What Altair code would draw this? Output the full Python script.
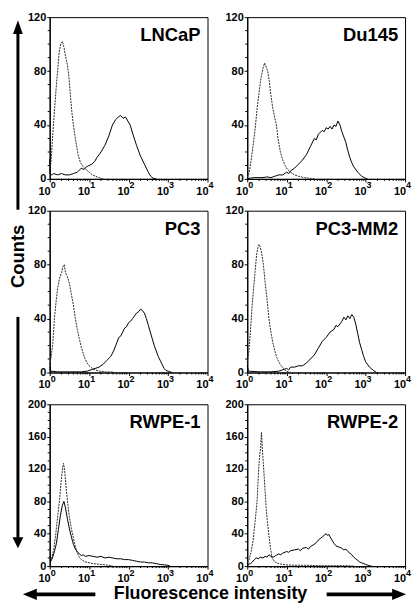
import altair as alt
import pandas as pd

FONT = "Liberation Sans"

PANELS = ["LNCaP", "Du145", "PC3", "PC3-MM2", "RWPE-1", "RWPE-2"]
Y_MAX = [120, 120, 120, 120, 200, 200]
Y_TICKS = [[0, 40, 80, 120]] * 4 + [[0, 40, 80, 120, 160, 200]] * 2
DECADES = [1, 10, 100, 1000, 10000]
EXPONENTS = ["0", "1", "2", "3", "4"]
MINOR_X = [2, 3, 4, 5, 6, 7, 8, 9, 20, 30, 40, 50, 60, 70, 80, 90,
           200, 300, 400, 500, 600, 700, 800, 900,
           2000, 3000, 4000, 5000, 6000, 7000, 8000, 9000]
Y_LABEL = "Counts"
X_LABEL = "Fluorescence intensity"

# log10(fluorescence intensity) and counts
LNCAP_DASH_LOG = [0.00, 0.04, 0.08, 0.12, 0.16, 0.20, 0.24, 0.28, 0.32, 0.36, 0.40, 0.44, 0.48, 0.52, 0.56, 0.60, 0.66, 0.72, 0.78, 0.85, 0.92, 1.00, 1.08, 1.16, 1.25, 1.35]
LNCAP_DASH_CNT = [4, 15, 34, 50, 66, 80, 94, 100, 102, 98, 91, 86, 78, 64, 50, 40, 28, 18, 12, 9, 7, 5, 3, 2, 1, 0]
LNCAP_SOLID_LOG = [0.00, 0.01, 0.05, 0.10, 0.20, 0.30, 0.40, 0.50, 0.60, 0.70, 0.80, 0.87, 0.93, 1.00, 1.07, 1.14, 1.20, 1.30, 1.40, 1.50, 1.59, 1.67, 1.74, 1.80, 1.86, 1.92, 1.98, 2.04, 2.10, 2.20, 2.30, 2.40, 2.50, 2.56, 2.62, 2.70]
LNCAP_SOLID_CNT = [15, 4, 3, 4, 3, 4, 3, 3, 4, 5, 8, 7, 9, 10, 11, 13, 16, 20, 25, 32, 40, 44, 46, 47, 45, 46, 43, 40, 34, 25, 17, 11, 5, 2, 0.5, 0]

DU145_DASH_LOG = [0.00, 0.05, 0.10, 0.15, 0.20, 0.25, 0.30, 0.35, 0.40, 0.44, 0.48, 0.52, 0.56, 0.60, 0.65, 0.70, 0.74, 0.78, 0.84, 0.90, 0.96, 1.02, 1.10, 1.20, 1.30, 1.45, 1.60, 1.70]
DU145_DASH_CNT = [1, 5, 14, 25, 37, 52, 64, 75, 82, 86, 83, 80, 72, 62, 52, 45, 40, 30, 20, 14, 10, 7, 5, 3, 2, 1, 0.5, 0]
DU145_SOLID_LOG = [0.00, 0.05, 0.20, 0.40, 0.50, 0.60, 0.70, 0.80, 0.90, 1.00, 1.05, 1.10, 1.20, 1.30, 1.40, 1.50, 1.60, 1.70, 1.75, 1.80, 1.90, 1.95, 2.00, 2.05, 2.10, 2.15, 2.20, 2.25, 2.30, 2.35, 2.40, 2.45, 2.50, 2.55, 2.60, 2.65, 2.70, 2.80, 2.90, 3.00, 3.05]
DU145_SOLID_CNT = [0, 0.5, 1, 1, 1.5, 1, 2, 3, 3, 5, 4, 6, 8, 11, 14, 18, 24, 30, 29, 33, 36, 35, 38, 37, 39, 37, 40, 39, 43, 40, 35, 31, 27, 21, 16, 12, 9, 5, 2, 0.5, 0]

PC3_DASH_LOG = [0.00, 0.04, 0.08, 0.12, 0.16, 0.20, 0.25, 0.30, 0.34, 0.37, 0.40, 0.45, 0.50, 0.55, 0.60, 0.65, 0.70, 0.75, 0.80, 0.85, 0.90, 0.95, 1.00, 1.08, 1.15, 1.25, 1.40, 1.60, 1.65]
PC3_DASH_CNT = [6, 12, 22, 40, 52, 62, 70, 74, 79, 80, 74, 71, 66, 58, 50, 40, 32, 25, 19, 14, 10, 7, 5, 3, 2, 1, 0.5, 0.3, 0]
PC3_SOLID_LOG = [0.00, 0.03, 0.20, 0.50, 0.80, 0.95, 1.05, 1.15, 1.25, 1.35, 1.45, 1.55, 1.62, 1.70, 1.75, 1.80, 1.85, 1.90, 1.95, 2.00, 2.05, 2.10, 2.15, 2.20, 2.25, 2.30, 2.35, 2.40, 2.45, 2.50, 2.55, 2.60, 2.65, 2.70, 2.75, 2.80, 2.85, 2.90, 2.95, 3.00, 3.10]
PC3_SOLID_CNT = [4, 1, 0.5, 0.5, 0.5, 1, 2, 3, 4, 6, 9, 12, 16, 22, 26, 27, 30, 33, 34, 37, 38, 40, 42, 44, 45, 47, 46, 44, 40, 35, 30, 25, 20, 16, 12, 9, 6, 3, 1.5, 1, 0]

MM2_DASH_LOG = [0.00, 0.04, 0.08, 0.12, 0.16, 0.20, 0.24, 0.28, 0.30, 0.33, 0.37, 0.41, 0.45, 0.50, 0.55, 0.60, 0.65, 0.70, 0.75, 0.80, 0.86, 0.92, 0.98, 1.05, 1.10]
MM2_DASH_CNT = [8, 15, 30, 48, 62, 75, 88, 94, 95, 93, 88, 80, 68, 55, 40, 30, 22, 16, 11, 8, 5, 3, 1, 0.5, 0]
MM2_SOLID_LOG = [0.00, 0.03, 0.30, 0.60, 0.80, 0.90, 1.00, 1.05, 1.10, 1.20, 1.30, 1.40, 1.50, 1.60, 1.70, 1.80, 1.90, 2.00, 2.10, 2.20, 2.25, 2.30, 2.35, 2.40, 2.45, 2.50, 2.55, 2.60, 2.65, 2.70, 2.75, 2.80, 2.85, 2.90, 2.95, 3.00, 3.10, 3.20, 3.28]
MM2_SOLID_CNT = [5, 1, 0.5, 0.5, 1, 2, 3, 2, 4, 4, 5, 5, 7, 10, 13, 18, 23, 26, 30, 32, 35, 34, 36, 38, 41, 39, 42, 40, 43, 41, 36, 29, 22, 17, 12, 8, 4, 1.5, 0]

RW1_DASH_LOG = [0.00, 0.05, 0.10, 0.15, 0.20, 0.25, 0.29, 0.33, 0.35, 0.38, 0.42, 0.46, 0.50, 0.55, 0.60, 0.65, 0.70, 0.75, 0.80, 0.90, 1.00, 1.10, 1.20, 1.30, 1.40, 1.50, 1.60]
RW1_DASH_CNT = [6, 10, 20, 38, 60, 82, 105, 122, 127, 118, 95, 76, 60, 46, 35, 24, 16, 11, 8, 5, 4, 3, 2.5, 2, 1.5, 1, 0]
RW1_SOLID_LOG = [0.00, 0.03, 0.07, 0.12, 0.17, 0.22, 0.27, 0.32, 0.36, 0.40, 0.45, 0.50, 0.55, 0.60, 0.65, 0.70, 0.75, 0.80, 0.85, 0.90, 1.00, 1.10, 1.20, 1.30, 1.40, 1.50, 1.60, 1.70, 1.80, 1.90, 2.00, 2.10, 2.20, 2.30, 2.40, 2.50, 2.60, 2.70, 2.80, 2.90, 3.00, 3.05]
RW1_SOLID_CNT = [12, 6, 10, 18, 28, 45, 62, 75, 80, 72, 58, 46, 36, 27, 21, 18, 15, 13, 14, 12, 13, 12, 11, 12, 10, 11, 10, 9, 9, 8, 8, 7, 6, 5, 5, 4, 4, 3, 2, 1.5, 1, 0]

RW2_DASH_LOG = [0.00, 0.05, 0.10, 0.15, 0.20, 0.25, 0.29, 0.32, 0.34, 0.36, 0.39, 0.42, 0.45, 0.48, 0.51, 0.55, 0.59, 0.63, 0.70, 0.80, 0.90, 1.00, 1.20, 1.50, 1.80, 2.10, 2.50, 2.70]
RW2_DASH_CNT = [4, 8, 18, 32, 55, 80, 120, 140, 145, 165, 140, 118, 95, 72, 55, 38, 22, 10, 5, 3, 2, 1.5, 1, 1, 0.5, 0.5, 0.5, 0]
RW2_SOLID_LOG = [0.00, 0.03, 0.08, 0.13, 0.18, 0.23, 0.28, 0.33, 0.40, 0.45, 0.50, 0.55, 0.60, 0.67, 0.72, 0.80, 0.85, 0.90, 1.00, 1.05, 1.10, 1.20, 1.30, 1.35, 1.40, 1.50, 1.55, 1.60, 1.70, 1.75, 1.80, 1.85, 1.90, 1.95, 2.00, 2.03, 2.07, 2.10, 2.15, 2.20, 2.25, 2.30, 2.35, 2.40, 2.45, 2.50, 2.55, 2.60, 2.65, 2.70, 2.75, 2.80, 2.85, 2.90, 3.00, 3.10, 3.15]
RW2_SOLID_CNT = [4, 2, 3, 5, 8, 10, 9, 11, 10, 12, 11, 14, 12, 11, 13, 15, 14, 16, 18, 17, 19, 20, 21, 19, 22, 23, 21, 24, 27, 29, 32, 34, 36, 38, 40, 38, 39, 36, 32, 28, 25, 24, 23, 22, 20, 21, 18, 16, 14, 11, 9, 7, 5, 4, 2, 0.5, 0]

CURVES = [
    (LNCAP_DASH_LOG, LNCAP_DASH_CNT, LNCAP_SOLID_LOG, LNCAP_SOLID_CNT),
    (DU145_DASH_LOG, DU145_DASH_CNT, DU145_SOLID_LOG, DU145_SOLID_CNT),
    (PC3_DASH_LOG, PC3_DASH_CNT, PC3_SOLID_LOG, PC3_SOLID_CNT),
    (MM2_DASH_LOG, MM2_DASH_CNT, MM2_SOLID_LOG, MM2_SOLID_CNT),
    (RW1_DASH_LOG, RW1_DASH_CNT, RW1_SOLID_LOG, RW1_SOLID_CNT),
    (RW2_DASH_LOG, RW2_DASH_CNT, RW2_SOLID_LOG, RW2_SOLID_CNT),
]

W, H = 159, 163
COL_GAP, ROW_GAP = 40, 32
ONE = pd.DataFrame({"k": [0]})


def curve_df(logs, cnts):
    assert len(logs) == len(cnts), (len(logs), len(cnts))
    return pd.DataFrame({"intensity": [10 ** v for v in logs], "count": cnts})


def arrow_head(path, size):
    return alt.Chart(ONE).mark_point(shape=path, filled=True, size=size, color="black", opacity=1, strokeWidth=0)


def decorations():
    # big axis arrows and titles, placed around the top-left panel (pixels relative to its plot area)
    ax = -32
    up_shaft = alt.Chart(ONE).mark_rule(color="black", strokeWidth=3).encode(
        x=alt.value(ax), y=alt.value(16), y2=alt.value(194))
    up_head = arrow_head("M0,-1L0.7,1L-0.7,1Z", 196).encode(x=alt.value(ax), y=alt.value(10))
    down_shaft = alt.Chart(ONE).mark_rule(color="black", strokeWidth=3).encode(
        x=alt.value(ax), y=alt.value(302), y2=alt.value(525))
    down_head = arrow_head("M0,1L1,-1L-1,-1Z", 121).encode(x=alt.value(ax), y=alt.value(529.5))
    counts = alt.Chart(ONE).mark_text(
        angle=270, align="center", baseline="middle", font=FONT, fontSize=18.5, fontWeight="bold", color="black"
    ).encode(x=alt.value(ax), y=alt.value(241), text=alt.value(Y_LABEL))
    by = 3 * H + 2 * ROW_GAP + 28.5
    left_shaft = alt.Chart(ONE).mark_rule(color="black", strokeWidth=4).encode(
        x=alt.value(-14), x2=alt.value(46), y=alt.value(by))
    left_head = arrow_head("M-1,0L1,-0.8L1,0.8Z", 196).encode(x=alt.value(-20), y=alt.value(by))
    right_shaft = alt.Chart(ONE).mark_rule(color="black", strokeWidth=4).encode(
        x=alt.value(279), x2=alt.value(346), y=alt.value(by))
    right_head = arrow_head("M1,0L-1,-0.8L-1,0.8Z", 196).encode(x=alt.value(352), y=alt.value(by))
    xlabel = alt.Chart(ONE).mark_text(
        align="center", baseline="middle", font=FONT, fontSize=18, fontWeight="bold", color="black"
    ).encode(x=alt.value(162), y=alt.value(by), text=alt.value(X_LABEL))
    return [up_shaft, up_head, down_shaft, down_head, counts,
            left_shaft, left_head, right_shaft, right_head, xlabel]


def panel(i):
    name, ymax, yticks = PANELS[i], Y_MAX[i], Y_TICKS[i]
    dlog, dcnt, slog, scnt = CURVES[i]
    xs = alt.Scale(type="log", domain=[1, 10000], nice=False)
    ys = alt.Scale(domain=[0, ymax], nice=False)
    xax = alt.Axis(values=DECADES, labels=False, tickSize=3, title=None, grid=False)
    yax = alt.Axis(values=yticks, tickSize=3, labelPadding=1, title=None, grid=False)

    dashed = alt.Chart(curve_df(dlog, dcnt)).mark_line(
        color="#2a2a2a", strokeWidth=1, strokeDash=[2, 1]
    ).encode(x=alt.X("intensity:Q", scale=xs, axis=xax),
             y=alt.Y("count:Q", scale=ys, axis=yax))
    solid = alt.Chart(curve_df(slog, scnt)).mark_line(
        color="black", strokeWidth=1
    ).encode(x=alt.X("intensity:Q", scale=xs, axis=xax),
             y=alt.Y("count:Q", scale=ys, axis=yax))

    minor_x = alt.Chart(pd.DataFrame({"intensity": MINOR_X})).mark_rule(
        color="black", strokeWidth=1
    ).encode(x=alt.X("intensity:Q", scale=xs, axis=xax), y=alt.value(H), y2=alt.value(H + 2))
    minor_y = alt.Chart(pd.DataFrame({"count": [v for v in range(0, ymax + 1, 10) if v not in yticks]})).mark_rule(
        color="black", strokeWidth=1
    ).encode(y=alt.Y("count:Q", scale=ys, axis=yax), x=alt.value(0), x2=alt.value(-2))

    dec = pd.DataFrame({"intensity": DECADES, "base": ["10"] * 5, "exp": EXPONENTS})
    base = alt.Chart(dec).mark_text(
        align="right", baseline="alphabetic", dx=1, font=FONT, fontSize=11, fontWeight="bold", color="black"
    ).encode(x=alt.X("intensity:Q", scale=xs, axis=xax), y=alt.value(H + 16), text="base:N")
    exp = alt.Chart(dec).mark_text(
        align="left", baseline="alphabetic", dx=1, font=FONT, fontSize=9, fontWeight="bold", color="black"
    ).encode(x=alt.X("intensity:Q", scale=xs, axis=xax), y=alt.value(H + 9.5), text="exp:N")

    title = alt.Chart(ONE).mark_text(
        align="right", baseline="alphabetic", font=FONT, fontSize=18.5, fontWeight="bold", color="black"
    ).encode(x=alt.value(W - 7), y=alt.value(24), text=alt.value(name))

    layers = [dashed, solid, minor_x, minor_y, base, exp, title]
    if i == 0:
        layers += decorations()
    return alt.layer(*layers).properties(width=W, height=H)


chart = alt.concat(
    *[panel(i) for i in range(6)],
    columns=2, spacing={"row": ROW_GAP, "column": COL_GAP}, bounds="flush", padding=0,
).configure_view(
    stroke="black", strokeWidth=1
).configure_axis(
    domainColor="black", domainWidth=1.2, tickColor="black", tickWidth=1,
    labelColor="black", labelFont=FONT, labelFontSize=11, labelFontWeight="bold",
)

chart.save("out.html", embed_options={"renderer": "svg", "actions": False})
